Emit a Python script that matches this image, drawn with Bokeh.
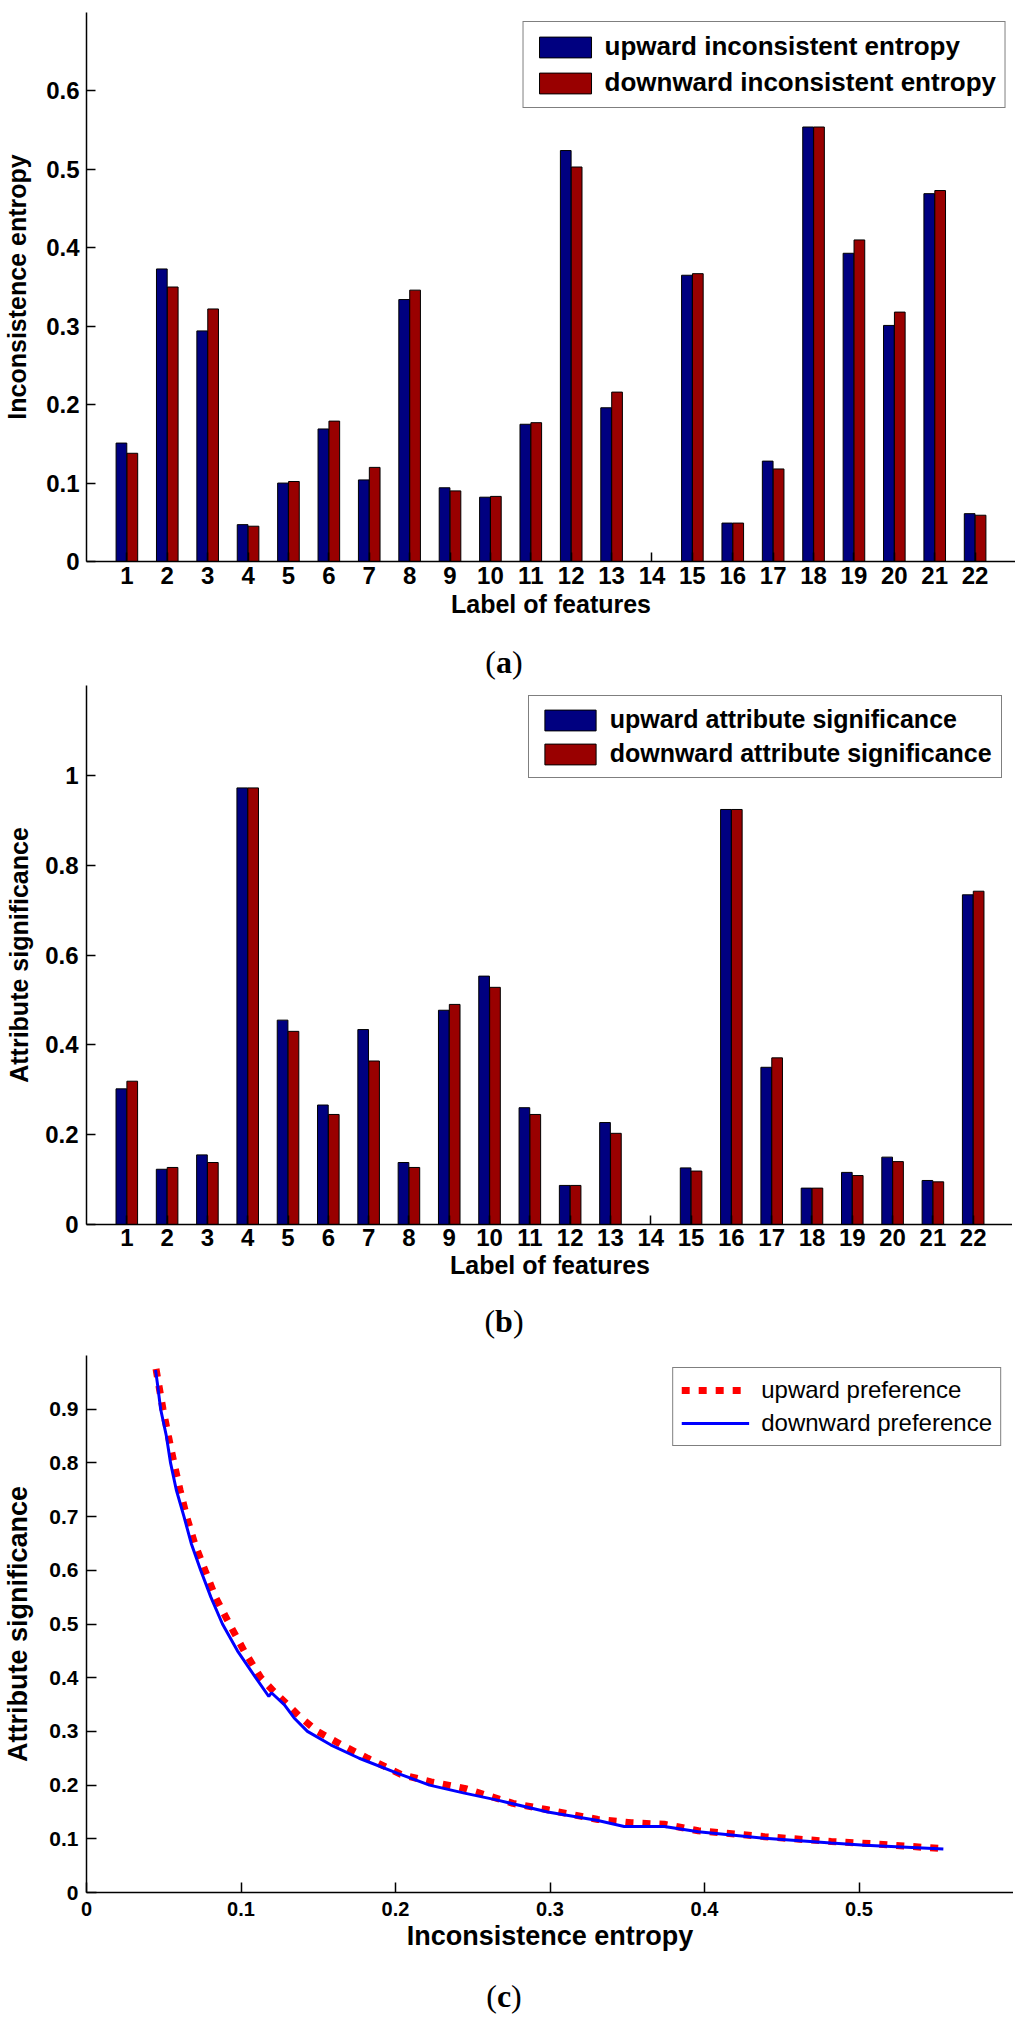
from bokeh.plotting import figure
from bokeh.layouts import column
from bokeh.models import Range1d, FixedTicker, ColumnDataSource, Div
from bokeh.transform import dodge
from bokeh.embed import file_html
from bokeh.resources import INLINE

# ---- data ----
features = list(range(1, 23))

# (a) inconsistence entropy per feature
up_entropy = [0.151, 0.373, 0.294, 0.047, 0.100, 0.169, 0.104, 0.334, 0.094, 0.082, 0.175,
              0.524, 0.196, 0.0, 0.365, 0.049, 0.128, 0.554, 0.393, 0.301, 0.469, 0.061]
down_entropy = [0.138, 0.350, 0.322, 0.045, 0.102, 0.179, 0.120, 0.346, 0.090, 0.083, 0.177,
                0.503, 0.216, 0.0, 0.367, 0.049, 0.118, 0.554, 0.410, 0.318, 0.473, 0.059]

# (b) attribute significance per feature
up_sig = [0.302, 0.123, 0.155, 0.972, 0.455, 0.266, 0.434, 0.138, 0.477, 0.553, 0.260,
          0.087, 0.227, 0.0, 0.126, 0.924, 0.350, 0.081, 0.116, 0.150, 0.098, 0.734]
down_sig = [0.319, 0.127, 0.138, 0.972, 0.430, 0.245, 0.364, 0.127, 0.490, 0.528, 0.245,
            0.087, 0.203, 0.0, 0.119, 0.924, 0.371, 0.081, 0.109, 0.140, 0.095, 0.742]

# (c) attribute significance against inconsistence entropy
up_pref_x = [0.045, 0.0465, 0.0495, 0.053, 0.0566, 0.0605, 0.0648, 0.070, 0.0767, 0.0835,
             0.0925, 0.102, 0.1128, 0.121, 0.130, 0.139, 0.1495, 0.165, 0.182, 0.2035,
             0.223, 0.2446, 0.276, 0.2985, 0.331, 0.3526, 0.374, 0.396, 0.439, 0.482,
             0.5076, 0.5524]
up_pref_y = [0.975, 0.95, 0.9, 0.85, 0.8, 0.75, 0.7, 0.65, 0.6, 0.55,
             0.5, 0.45, 0.4, 0.375, 0.35, 0.325, 0.3, 0.275, 0.25, 0.22,
             0.206, 0.194, 0.166, 0.154, 0.136, 0.130, 0.127, 0.115, 0.104, 0.095,
             0.091, 0.082]
down_pref_x = [0.0447, 0.0458, 0.048, 0.0517, 0.0544, 0.0581, 0.0631, 0.0678, 0.0739, 0.0805,
               0.088, 0.0977, 0.1095, 0.118, 0.1197, 0.128, 0.1344, 0.143, 0.158, 0.1765,
               0.2014, 0.222, 0.2446, 0.266, 0.2985, 0.331, 0.348, 0.374, 0.396, 0.439,
               0.482, 0.504, 0.5546]
down_pref_y = [0.973, 0.95, 0.9, 0.85, 0.8, 0.75, 0.7, 0.65, 0.6, 0.55,
               0.5, 0.45, 0.4, 0.365, 0.372, 0.35, 0.325, 0.3, 0.275, 0.25,
               0.222, 0.2, 0.185, 0.172, 0.15, 0.134, 0.123, 0.123, 0.113, 0.101,
               0.092, 0.088, 0.081]

entropy_ticks = [0, 0.1, 0.2, 0.3, 0.4, 0.5, 0.6]
sig_ticks = [0, 0.2, 0.4, 0.6, 0.8, 1.0]
curve_x_ticks = [0, 0.1, 0.2, 0.3, 0.4, 0.5]
curve_y_ticks = [0, 0.1, 0.2, 0.3, 0.4, 0.5, 0.6, 0.7, 0.8, 0.9]

SANS = "Liberation Sans"
SERIF = "Liberation Serif"
NAVY = "#000080"
DARKRED = "#990000"


def style_axes(p, tick_size, label_size, tick_in, label_standoff_x, label_standoff_y,
               axlab_standoff_x, axlab_standoff_y, x_tick_size=None):
    p.outline_line_color = None
    p.xgrid.visible = False
    p.ygrid.visible = False
    for ax in p.axis:
        ax.axis_line_width = 1.5
        ax.major_tick_line_width = 1.5
        ax.major_tick_in = tick_in
        ax.major_tick_out = 0
        ax.minor_tick_line_color = None
        ax.major_label_text_font = SANS
        ax.major_label_text_font_style = "bold"
        ax.major_label_text_font_size = f"{tick_size}px"
        ax.major_label_text_color = "black"
        ax.axis_label_text_font = SANS
        ax.axis_label_text_font_style = "bold"
        ax.axis_label_text_font_size = f"{label_size}px"
        ax.axis_label_text_color = "black"
    if x_tick_size:
        p.xaxis.major_label_text_font_size = f"{x_tick_size}px"
    p.xaxis.major_label_standoff = label_standoff_x
    p.yaxis.major_label_standoff = label_standoff_y
    p.xaxis.axis_label_standoff = axlab_standoff_x
    p.yaxis.axis_label_standoff = axlab_standoff_y


def style_legend(p, margin, glyph_w, glyph_h, standoff, padding, spacing, size, weight):
    leg = p.legend[0]
    leg.location = "top_right"
    leg.margin = margin
    leg.glyph_width = glyph_w
    leg.glyph_height = glyph_h
    leg.label_standoff = standoff
    leg.padding = padding
    leg.spacing = spacing
    leg.label_text_font = SANS
    leg.label_text_font_style = weight
    leg.label_text_font_size = f"{size}px"
    leg.label_text_color = "black"
    leg.border_line_color = "black"
    leg.border_line_width = 1.5
    leg.background_fill_alpha = 1.0


def caption(letter, height):
    return Div(text=f"(<b>{letter}</b>)", width=1008, height=height, margin=0,
               styles={"text-align": "center", "font-family": SERIF, "font-size": "32px",
                       "line-height": f"{height}px", "color": "black"})


def bar_panel(up, down, up_label, down_label, y_end, y_ticks, y_label,
              frame_w, frame_h, b_left, b_right, b_top, b_bottom):
    src = ColumnDataSource(dict(f=features, up=up, down=down))
    p = figure(frame_width=frame_w, frame_height=frame_h,
               min_border_left=b_left, min_border_right=b_right,
               min_border_top=b_top, min_border_bottom=b_bottom,
               x_range=Range1d(0, 23), y_range=Range1d(0, y_end),
               output_backend="svg", toolbar_location=None)
    p.vbar(x=dodge("f", -0.135), top="up", width=0.265, source=src,
           fill_color=NAVY, line_color="black", line_width=1, legend_label=up_label)
    p.vbar(x=dodge("f", 0.135), top="down", width=0.265, source=src,
           fill_color=DARKRED, line_color="black", line_width=1, legend_label=down_label)
    p.xaxis.ticker = FixedTicker(ticks=features)
    p.yaxis.ticker = FixedTicker(ticks=y_ticks)
    p.xaxis.axis_label = "Label of features"
    p.yaxis.axis_label = y_label
    return p


# ---- (a) ----
pa = bar_panel(up_entropy, down_entropy, "upward inconsistent entropy",
               "downward inconsistent entropy", 0.7, entropy_ticks, "Inconsistence entropy",
               929, 549, 79, 0, 12, 79)
style_axes(pa, 24, 25, 9, 5, 7, 3, 12)
style_legend(pa, 9, 65, 26, 7, 9, 5, 26, "bold")

# ---- (b) ----
pb = bar_panel(up_sig, down_sig, "upward attribute significance",
               "downward attribute significance", 1.2, sig_ticks, "Attribute significance",
               927, 539, 80, 1, 1, 75)
style_axes(pb, 24, 25, 9, 4, 8, 2, 9)
style_legend(pb, 10, 64, 26, 8, 9, 5, 25, "bold")

# ---- (c) ----
pc = figure(frame_width=927, frame_height=537,
            min_border_left=81, min_border_right=0, min_border_top=12, min_border_bottom=84,
            x_range=Range1d(0, 0.6), y_range=Range1d(0, 1.0),
            output_backend="svg", toolbar_location=None)
pc.line(up_pref_x, up_pref_y, line_color="#FF0000", line_width=7, line_dash="8 9",
        line_cap="butt", legend_label="upward preference")
pc.line(down_pref_x, down_pref_y, line_color="#0000FF", line_width=3,
        legend_label="downward preference")
pc.xaxis.ticker = FixedTicker(ticks=curve_x_ticks)
pc.yaxis.ticker = FixedTicker(ticks=curve_y_ticks)
pc.xaxis.axis_label = "Inconsistence entropy"
pc.yaxis.axis_label = "Attribute significance"
style_axes(pc, 21, 27, 10, 9, 8, 2, 13, x_tick_size=20)
style_legend(pc, 12, 68, 26, 12, 8, 5, 24, "normal")

layout = column(pa, caption("a", 44), pb, caption("b", 44), pc, caption("c", 40), spacing=0)
open("out.html", "w").write(file_html(layout, INLINE))
